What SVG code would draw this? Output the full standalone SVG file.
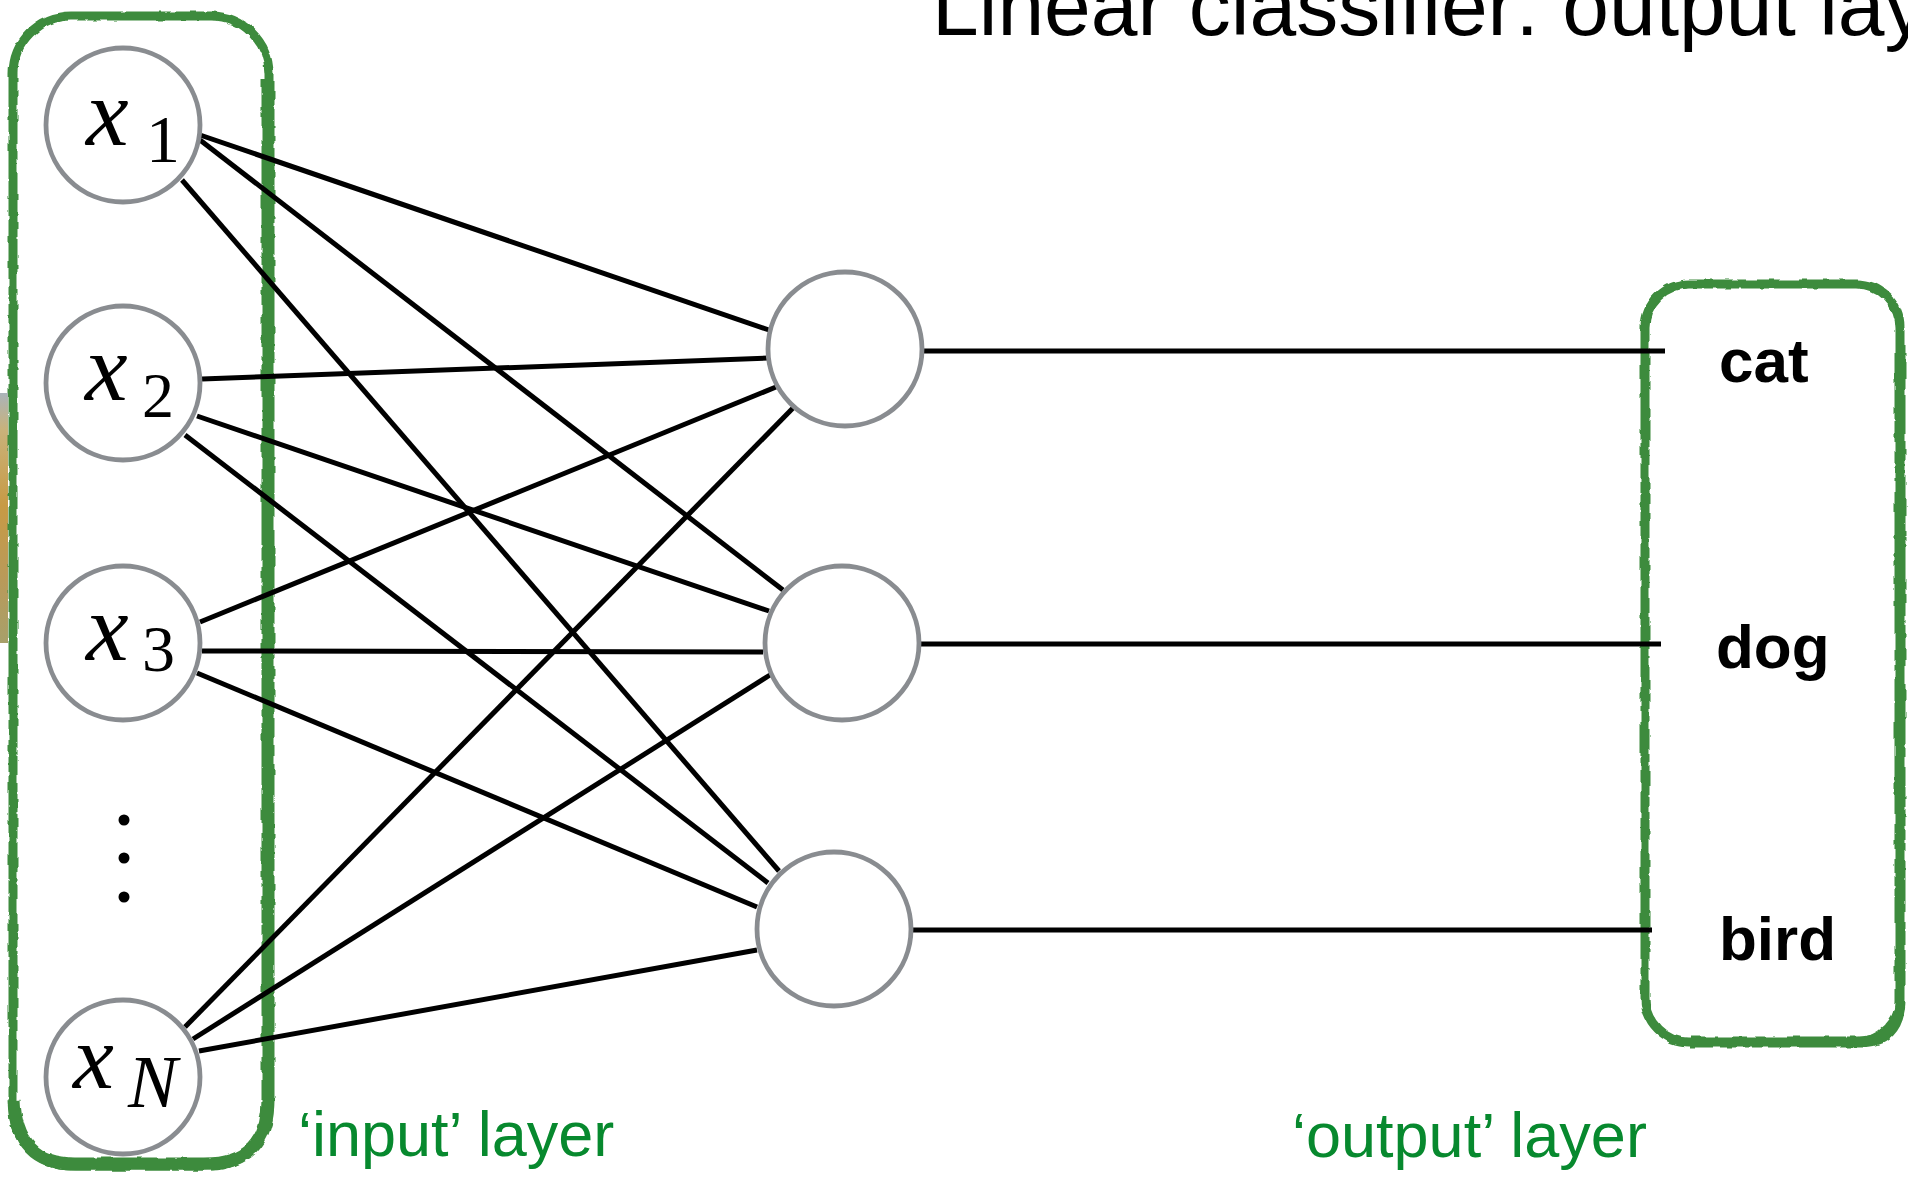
<svg xmlns="http://www.w3.org/2000/svg" width="1908" height="1178" viewBox="0 0 1908 1178">
  <defs>
    <style>
      .box { fill: #ffffff; stroke: #3d8b3d; stroke-linejoin: round; filter: url(#rough); }
      .edge { stroke: #000000; stroke-width: 5; fill: none; }
      .unit { fill: #ffffff; stroke: #898c90; stroke-width: 4.8; }
      .var { font-family: "Liberation Serif", "DejaVu Serif", serif; font-style: italic; fill: #000000; }
      .sub { font-family: "Liberation Serif", "DejaVu Serif", serif; fill: #000000; }
      .cls { font-family: "Liberation Sans", Arial, sans-serif; font-weight: bold; font-size: 62px; fill: #000000; }
      .cap { font-family: "Liberation Sans", Arial, sans-serif; font-size: 63px; fill: #07892e; }
      .title { font-family: "Liberation Sans", Arial, sans-serif; font-size: 84px; fill: #000000; }
    </style>
    <filter id="rough" x="-5%" y="-5%" width="110%" height="110%">
      <feTurbulence type="fractalNoise" baseFrequency="0.09" numOctaves="2" seed="3" result="n"/>
      <feDisplacementMap in="SourceGraphic" in2="n" scale="4" xChannelSelector="R" yChannelSelector="G"/>
    </filter>
    <linearGradient id="photo" x1="0" y1="0" x2="0" y2="1">
      <stop offset="0" stop-color="#aab4ba"/>
      <stop offset="0.15" stop-color="#c9b27a"/>
      <stop offset="0.45" stop-color="#c79a45"/>
      <stop offset="0.75" stop-color="#b99a5a"/>
      <stop offset="1" stop-color="#a7a06a"/>
    </linearGradient>
  </defs>

  <!-- edge of a photo strip at the left margin -->
  <rect x="0" y="393" width="8" height="250" fill="url(#photo)"/>

  <!-- layer frames -->
  <g id="input-layer">
    <rect class="box" x="13" y="16" width="256" height="1150" rx="58" stroke-width="9"/>
    <path d="M 268 80 L 268 1100 Q 268 1164 205 1164 L 75 1164 Q 16 1164 14 1100" fill="none" stroke="#3d8b3d" stroke-width="13" filter="url(#rough)"/>
  </g>
  <g id="output-layer">
    <rect class="box" x="1645" y="284" width="255" height="758" rx="44" stroke-width="9"/>
    <path d="M 1900 330 L 1900 1000 Q 1900 1042 1858 1042 L 1690 1042" fill="none" stroke="#3d8b3d" stroke-width="11" filter="url(#rough)"/>
  </g>

  <!-- weighted connections -->
  <g id="connectors">
    <line class="edge" x1="200" y1="135" x2="769" y2="330"/>
    <line class="edge" x1="200" y1="140" x2="783" y2="590"/>
    <line class="edge" x1="182" y1="180" x2="779" y2="871"/>
    <line class="edge" x1="202" y1="379" x2="768" y2="358"/>
    <line class="edge" x1="197" y1="416" x2="769" y2="611"/>
    <line class="edge" x1="185" y1="435" x2="768" y2="883"/>
    <line class="edge" x1="200" y1="622" x2="776" y2="387"/>
    <line class="edge" x1="202" y1="651" x2="763" y2="652"/>
    <line class="edge" x1="197" y1="673" x2="757" y2="907"/>
    <line class="edge" x1="185" y1="1027" x2="793" y2="408"/>
    <line class="edge" x1="193" y1="1039" x2="770" y2="675"/>
    <line class="edge" x1="199" y1="1051" x2="757" y2="950"/>
    <line class="edge" x1="922" y1="351" x2="1665" y2="351"/>
    <line class="edge" x1="919" y1="644" x2="1661" y2="644"/>
    <line class="edge" x1="911" y1="930" x2="1652" y2="930"/>
  </g>

  <!-- input units -->
  <g id="x1">
    <circle class="unit" cx="123" cy="125" r="77"/>
    <text class="var" x="86" y="145" font-size="96">x</text>
    <text class="sub" x="146" y="162" font-size="68">1</text>
  </g>
  <g id="x2">
    <circle class="unit" cx="123" cy="383" r="77"/>
    <text class="var" x="85" y="400" font-size="96">x</text>
    <text class="sub" x="142" y="417" font-size="64">2</text>
  </g>
  <g id="x3">
    <circle class="unit" cx="123" cy="643" r="77"/>
    <text class="var" x="86" y="660" font-size="96">x</text>
    <text class="sub" x="142" y="671" font-size="66">3</text>
  </g>
  <g id="dots">
    <circle cx="124" cy="820" r="5.5"/>
    <circle cx="124" cy="858" r="5.5"/>
    <circle cx="124" cy="897" r="5.5"/>
  </g>
  <g id="xN">
    <circle class="unit" cx="123" cy="1077" r="77"/>
    <text class="var" x="73" y="1088" font-size="92">x</text>
    <text class="var" x="128" y="1107" font-size="74">N</text>
  </g>

  <!-- output units -->
  <g id="h1"><circle class="unit" cx="845" cy="349" r="77"/></g>
  <g id="h2"><circle class="unit" cx="842" cy="643" r="77"/></g>
  <g id="h3"><circle class="unit" cx="834" cy="929" r="77"/></g>

  <!-- class labels -->
  <g id="labels">
    <text class="cls" x="1719" y="382">cat</text>
    <text class="cls" x="1716" y="668">dog</text>
    <text class="cls" x="1719" y="960">bird</text>
  </g>

  <text class="cap" x="298" y="1156">‘input’ layer</text>
  <text class="cap" x="1292" y="1157">‘output’ layer</text>
  <text class="title" x="932" y="35">Linear classifier: output layer</text>
</svg>
